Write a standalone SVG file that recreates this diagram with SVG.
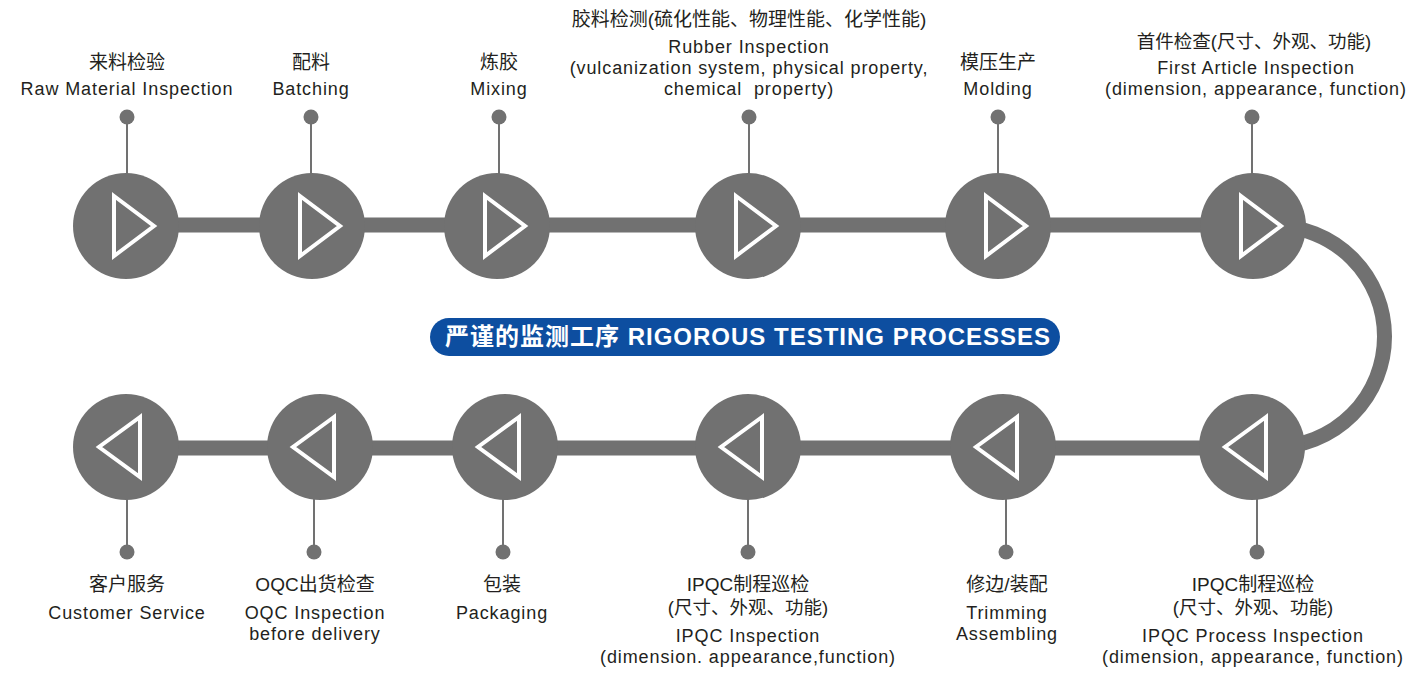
<svg xmlns="http://www.w3.org/2000/svg" width="1412" height="674" viewBox="0 0 1412 674">
<defs>
<style>
.bar{fill:none;stroke:#717171;stroke-width:15}
.circ{fill:#717171}
.tri{fill:none;stroke:#ffffff;stroke-width:4}
.stem{stroke:#717171;stroke-width:2}
.dot{fill:#717171}
.cn{font-family:"Liberation Sans","Noto Sans CJK SC",sans-serif;font-size:19px;fill:#231f20;text-anchor:middle}
.en{font-family:"Liberation Sans",Arial,sans-serif;font-size:18px;letter-spacing:0.9px;fill:#231f20;text-anchor:middle}
.ban{font-family:"Liberation Sans","Noto Sans CJK SC",sans-serif;font-size:24px;font-weight:bold;letter-spacing:1px;fill:#ffffff;text-anchor:middle}
</style>
</defs>
<rect width="1412" height="674" fill="#ffffff"/>
<g id="connectors">
<line class="bar" x1="126" y1="225" x2="1253" y2="225"/>
<line class="bar" x1="126" y1="448" x2="1252" y2="448"/>
<path class="bar" d="M1274,226 A110.5,110.5 0 0 1 1274,447"/>
</g>
<g id="banner">
<rect x="430" y="318" width="630" height="38" rx="19" fill="#0d4ea0"/>
<text class="ban" x="748" y="345">严谨的监测工序 RIGOROUS TESTING PROCESSES</text>
</g>
<g id="n1">
<line class="stem" x1="127" y1="117" x2="127" y2="174"/>
<circle class="dot" cx="127" cy="117" r="7.5"/>
<circle class="circ" cx="126" cy="226" r="53"/>
<path class="tri" d="M114,196 L154,226 L114,256 Z"/>
<text class="cn" x="127" y="69">来料检验</text>
<text class="en" x="127" y="95">Raw Material Inspection</text>
</g>
<g id="n2">
<line class="stem" x1="311" y1="117" x2="311" y2="174"/>
<circle class="dot" cx="311" cy="117" r="7.5"/>
<circle class="circ" cx="312" cy="226" r="53"/>
<path class="tri" d="M300,196 L340,226 L300,256 Z"/>
<text class="cn" x="311" y="69">配料</text>
<text class="en" x="311" y="95">Batching</text>
</g>
<g id="n3">
<line class="stem" x1="499" y1="117" x2="499" y2="174"/>
<circle class="dot" cx="499" cy="117" r="7.5"/>
<circle class="circ" cx="497" cy="226" r="53"/>
<path class="tri" d="M485,196 L525,226 L485,256 Z"/>
<text class="cn" x="499" y="69">炼胶</text>
<text class="en" x="499" y="95">Mixing</text>
</g>
<g id="n4">
<line class="stem" x1="749" y1="117" x2="749" y2="174"/>
<circle class="dot" cx="749" cy="117" r="7.5"/>
<circle class="circ" cx="748" cy="226" r="53"/>
<path class="tri" d="M736,196 L776,226 L736,256 Z"/>
<text class="cn" x="749" y="26">胶料检测(硫化性能、物理性能、化学性能)</text>
<text class="en" x="749" y="53">Rubber Inspection</text>
<text class="en" x="749" y="74">(vulcanization system, physical property,</text>
<text class="en" x="749" y="95" xml:space="preserve">chemical  property)</text>
</g>
<g id="n5">
<line class="stem" x1="998" y1="117" x2="998" y2="174"/>
<circle class="dot" cx="998" cy="117" r="7.5"/>
<circle class="circ" cx="998" cy="226" r="53"/>
<path class="tri" d="M986,196 L1026,226 L986,256 Z"/>
<text class="cn" x="998" y="69">模压生产</text>
<text class="en" x="998" y="95">Molding</text>
</g>
<g id="n6">
<line class="stem" x1="1252" y1="117" x2="1252" y2="174"/>
<circle class="dot" cx="1252" cy="117" r="7.5"/>
<circle class="circ" cx="1253" cy="226" r="53"/>
<path class="tri" d="M1241,196 L1281,226 L1241,256 Z"/>
<text class="cn" x="1254" y="48" style="font-size:18.5px">首件检查(尺寸、外观、功能)</text>
<text class="en" x="1256" y="74">First Article Inspection</text>
<text class="en" x="1256" y="95">(dimension, appearance, function)</text>
</g>
<g id="n7">
<line class="stem" x1="1257" y1="499" x2="1257" y2="552"/>
<circle class="dot" cx="1257" cy="552" r="7.5"/>
<circle class="circ" cx="1252" cy="447" r="53"/>
<path class="tri" d="M1266,417 L1225,447 L1266,477 Z"/>
<text class="cn" x="1253" y="591">IPQC制程巡检</text>
<text class="cn" x="1253" y="614" style="font-size:18.5px">(尺寸、外观、功能)</text>
<text class="en" x="1253" y="642">IPQC Process Inspection</text>
<text class="en" x="1253" y="663">(dimension, appearance, function)</text>
</g>
<g id="n8">
<line class="stem" x1="1006" y1="499" x2="1006" y2="552"/>
<circle class="dot" cx="1006" cy="552" r="7.5"/>
<circle class="circ" cx="1003" cy="447" r="53"/>
<path class="tri" d="M1017,417 L976,447 L1017,477 Z"/>
<text class="cn" x="1007" y="591">修边/装配</text>
<text class="en" x="1007" y="619">Trimming</text>
<text class="en" x="1007" y="640">Assembling</text>
</g>
<g id="n9">
<line class="stem" x1="748" y1="499" x2="748" y2="552"/>
<circle class="dot" cx="748" cy="552" r="7.5"/>
<circle class="circ" cx="748" cy="447" r="53"/>
<path class="tri" d="M762,417 L721,447 L762,477 Z"/>
<text class="cn" x="748" y="591">IPQC制程巡检</text>
<text class="cn" x="748" y="614" style="font-size:18.5px">(尺寸、外观、功能)</text>
<text class="en" x="748" y="642">IPQC Inspection</text>
<text class="en" x="748" y="663">(dimension. appearance,function)</text>
</g>
<g id="n10">
<line class="stem" x1="503" y1="499" x2="503" y2="552"/>
<circle class="dot" cx="503" cy="552" r="7.5"/>
<circle class="circ" cx="505" cy="447" r="53"/>
<path class="tri" d="M519,417 L478,447 L519,477 Z"/>
<text class="cn" x="502" y="591">包装</text>
<text class="en" x="502" y="619">Packaging</text>
</g>
<g id="n11">
<line class="stem" x1="314" y1="499" x2="314" y2="552"/>
<circle class="dot" cx="314" cy="552" r="7.5"/>
<circle class="circ" cx="320" cy="447" r="53"/>
<path class="tri" d="M334,417 L293,447 L334,477 Z"/>
<text class="cn" x="315" y="591">OQC出货检查</text>
<text class="en" x="315" y="619">OQC Inspection</text>
<text class="en" x="315" y="640">before delivery</text>
</g>
<g id="n12">
<line class="stem" x1="127" y1="499" x2="127" y2="552"/>
<circle class="dot" cx="127" cy="552" r="7.5"/>
<circle class="circ" cx="126" cy="447" r="53"/>
<path class="tri" d="M140,417 L99,447 L140,477 Z"/>
<text class="cn" x="127" y="591">客户服务</text>
<text class="en" x="127" y="619">Customer Service</text>
</g>
</svg>
